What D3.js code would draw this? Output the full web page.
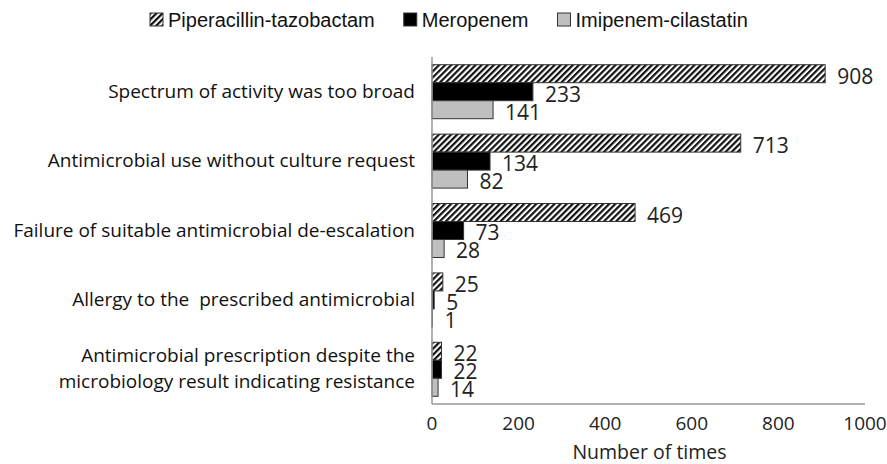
<!DOCTYPE html>
<html>
<head>
<meta charset="utf-8">
<script src="https://cdn.jsdelivr.net/npm/d3@7"></script>
<style>
  body { margin: 0; background: #fff; }
  svg { display: block; }
</style>
</head>
<body>
<svg id="chart" width="887" height="464"></svg>
<script>
// data
let reasons = [
    ['Spectrum of activity was too broad'],
    ['Antimicrobial use without culture request'],
    ['Failure of suitable antimicrobial de-escalation'],
    ['Allergy to the  prescribed antimicrobial'],
    ['Antimicrobial prescription despite the', 'microbiology result indicating resistance']
];
let seriesNames = ['Piperacillin-tazobactam', 'Meropenem', 'Imipenem-cilastatin'];
let pipTazo = [908, 713, 469, 25, 22];
let meropenem = [233, 134, 73, 5, 22];
let imipenem = [141, 82, 28, 1, 14];
let xTicks = [0, 200, 400, 600, 800, 1000];

let values = [pipTazo, meropenem, imipenem];
let fills = ['url(#hatch)', '#000', '#bfbfbf'];

let svg = d3.select('#chart');
let margin = {top: 57, right: 22, bottom: 60, left: 432};
let width = +svg.attr('width');
let height = +svg.attr('height');

// hatch pattern
let defs = svg.append('defs');
let pat = defs.append('pattern')
    .attr('id', 'hatch')
    .attr('patternUnits', 'userSpaceOnUse')
    .attr('width', 4.3).attr('height', 4.3)
    .attr('patternTransform', 'rotate(45)');
pat.append('rect').attr('width', 4.3).attr('height', 4.3).attr('fill', '#fff');
pat.append('rect').attr('width', 2.2).attr('height', 4.3).attr('fill', '#111');

let x = d3.scaleLinear()
    .domain([0, 1000])
    .range([margin.left, width - margin.right]);

let y = d3.scaleBand()
    .domain(d3.range(reasons.length))
    .range([margin.top, height - margin.bottom])
    .paddingInner(0.222)
    .paddingOuter(0.111);

let ySub = d3.scaleBand()
    .domain(d3.range(seriesNames.length))
    .range([0, y.bandwidth()]);

// bars
let groups = svg.append('g').selectAll('g')
    .data(reasons)
    .enter()
    .append('g')
    .attr('transform', function(d, i){ return 'translate(0,' + y(i) + ')'; });

groups.each(function(d, i){
    let g = d3.select(this);
    let rows = values.map(function(v, s){ return {s: s, v: v[i]}; });
    g.selectAll('rect')
        .data(rows)
        .enter()
        .append('rect')
        .attr('x', x(0))
        .attr('y', function(r){ return ySub(r.s); })
        .attr('width', function(r){ return x(r.v) - x(0); })
        .attr('height', ySub.bandwidth())
        .attr('fill', function(r){ return fills[r.s]; })
        .attr('stroke', '#333')
        .attr('stroke-width', 1);
    g.selectAll('text')
        .data(rows)
        .enter()
        .append('text')
        .attr('x', function(r){ return x(r.v) + 12; })
        .attr('y', function(r){ return ySub(r.s) + ySub.bandwidth() / 2 + 10; })
        .attr('font-family', '"Open Sans", sans-serif')
        .attr('font-size', 21)
        .attr('fill', '#222')
        .text(function(r){ return r.v; });
});

// category labels
let labels = svg.append('g').selectAll('text')
    .data(reasons)
    .enter()
    .append('text')
    .attr('x', margin.left - 17)
    .attr('y', function(d, i){ return y(i) + y.bandwidth() / 2; })
    .attr('text-anchor', 'end')
    .attr('font-family', '"Open Sans", sans-serif')
    .attr('font-size', 19)
    .attr('fill', '#111');
labels.each(function(d){
    let t = d3.select(this);
    let n = d.length;
    d.forEach(function(line, k){
        t.append('tspan')
            .attr('x', margin.left - 17)
            .attr('dy', k === 0 ? (-(n - 1) * 13 + 6) + 'px' : '26px')
            .style('white-space', 'pre')
            .text(line);
    });
});

// axes
svg.append('line')
    .attr('x1', x(0)).attr('x2', x(0))
    .attr('y1', margin.top).attr('y2', height - margin.bottom)
    .attr('stroke', '#999').attr('stroke-width', 1.5);
svg.append('line')
    .attr('x1', x(0)).attr('x2', x(1000))
    .attr('y1', height - margin.bottom).attr('y2', height - margin.bottom)
    .attr('stroke', '#999').attr('stroke-width', 1.5);

svg.append('g').selectAll('text')
    .data(xTicks)
    .enter()
    .append('text')
    .attr('x', function(d){ return x(d); })
    .attr('y', height - margin.bottom + 26)
    .attr('text-anchor', 'middle')
    .attr('font-family', '"Open Sans", sans-serif')
    .attr('font-size', 19)
    .attr('fill', '#222')
    .text(function(d){ return d; });

svg.append('text')
    .attr('x', (x(0) + x(1000)) / 2 + 1)
    .attr('y', height - 5)
    .attr('text-anchor', 'middle')
    .attr('font-family', '"Open Sans", sans-serif')
    .attr('font-size', 19.5)
    .attr('fill', '#222')
    .text('Number of times');

// legend
let legend = svg.append('g').attr('transform', 'translate(150,0)');
let lx = 0;
seriesNames.forEach(function(name, s){
    let item = legend.append('g').attr('transform', 'translate(' + lx + ',0)');
    item.append('rect')
        .attr('x', 0).attr('y', 13)
        .attr('width', 13).attr('height', 13)
        .attr('fill', fills[s])
        .attr('stroke', '#333');
    let t = item.append('text')
        .attr('x', 18)
        .attr('y', 27)
        .attr('font-family', '"Liberation Sans", Arial, sans-serif')
        .attr('font-size', 20)
        .attr('fill', '#111')
        .text(name);
    lx += 18 + t.node().getComputedTextLength() + 29;
});
</script>
</body>
</html>
